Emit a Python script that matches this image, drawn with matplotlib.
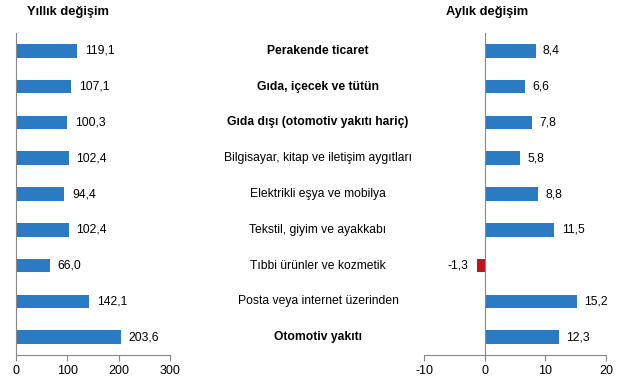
import matplotlib.pyplot as plt
from matplotlib.transforms import blended_transform_factory

plt.rcParams['font.family'] = ['Liberation Sans', 'DejaVu Sans']
plt.rcParams['axes.unicode_minus'] = False

categories = ["Perakende ticaret", "Gıda, içecek ve tütün", "Gıda dışı (otomotiv yakıtı hariç)",
              "Bilgisayar, kitap ve iletişim aygıtları", "Elektrikli eşya ve mobilya",
              "Tekstil, giyim ve ayakkabı", "Tıbbi ürünler ve kozmetik",
              "Posta veya internet üzerinden", "Otomotiv yakıtı"]
bold_rows = [0, 1, 2, 8]
yearly = [119.1, 107.1, 100.3, 102.4, 94.4, 102.4, 66.0, 142.1, 203.6]
monthly = [8.4, 6.6, 7.8, 5.8, 8.8, 11.5, -1.3, 15.2, 12.3]

BLUE = "#2b7bc3"
RED = "#c0151c"
GRAY = "#888888"


def fmt(v):
    return f"{v:.1f}".replace(".", ",")


def style_ax(ax):
    for s in ["top", "right"]:
        ax.spines[s].set_visible(False)
    ax.spines["left"].set_color(GRAY)
    ax.spines["bottom"].set_color(GRAY)
    ax.set_yticks([])
    ax.tick_params(axis="x", colors=GRAY, labelcolor="black", labelsize=9, length=4)
    ax.set_ylim(8.5, -0.5)


fig = plt.figure(figsize=(6.22, 3.89), dpi=100)
ax1 = fig.add_axes([16 / 622, 1 - 355 / 389, (170 - 16) / 622, (355 - 33) / 389])
ax2 = fig.add_axes([424 / 622, 1 - 355 / 389, (606 - 424) / 622, (355 - 33) / 389])

rows = list(range(len(categories)))

ax1.barh(rows, yearly, height=0.38, color=BLUE)
ax1.set_xlim(0, 300)
ax1.set_xticks([0, 100, 200, 300])
style_ax(ax1)
for r, v in zip(rows, yearly):
    ax1.text(v + 15, r, fmt(v), va="center", ha="left", fontsize=8.7)

colors = [RED if v < 0 else BLUE for v in monthly]
ax2.barh(rows, monthly, height=0.38, color=colors)
ax2.set_xlim(-10, 20)
ax2.set_xticks([-10, 0, 10, 20])
style_ax(ax2)
ax2.spines["left"].set_position(("data", 0))
for r, v in zip(rows, monthly):
    if v < 0:
        ax2.text(v - 1.4, r, fmt(v), va="center", ha="right", fontsize=8.7)
    else:
        ax2.text(v + 1.2, r, fmt(v), va="center", ha="left", fontsize=8.7)

tr = blended_transform_factory(fig.transFigure, ax1.transData)
for r, c in zip(rows, categories):
    fig.text(318 / 622, r, c, transform=tr, ha="center", va="center", fontsize=8.7,
             fontweight="bold" if r in bold_rows else "normal")

fig.text(27 / 622, 1 - 12 / 389, "Yıllık değişim", ha="left", va="center", fontsize=9.3, fontweight="bold")
fig.text(487 / 622, 1 - 12 / 389, "Aylık değişim", ha="center", va="center", fontsize=9.3, fontweight="bold")

fig.savefig("out.png", dpi=100)
